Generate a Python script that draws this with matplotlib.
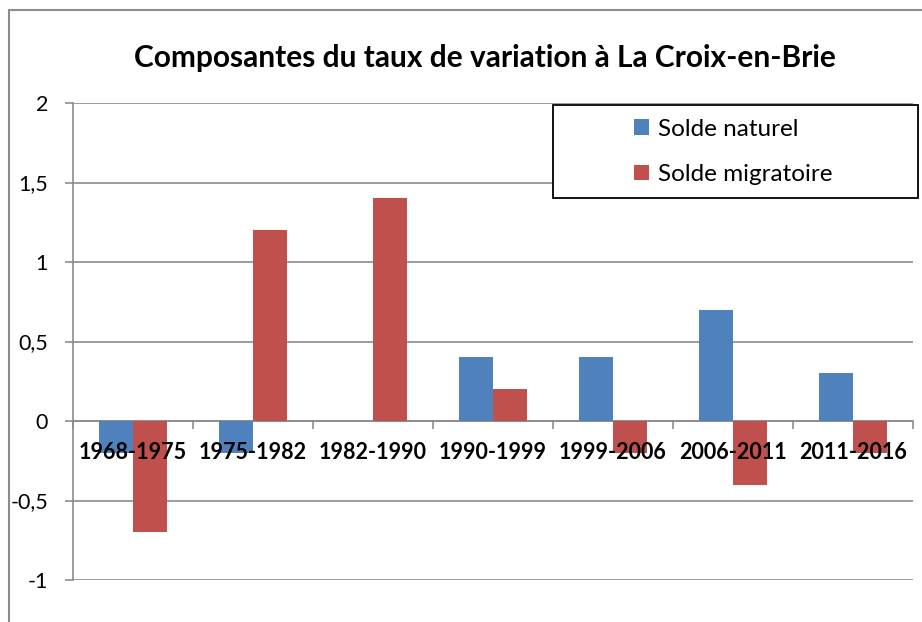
import matplotlib.pyplot as plt
from matplotlib.patches import Rectangle
import numpy as np

periodes = ['1968-1975', '1975-1982', '1982-1990', '1990-1999',
            '1999-2006', '2006-2011', '2011-2016']
solde_naturel = [-0.2, -0.2, 0.0, 0.4, 0.4, 0.7, 0.3]
solde_migratoire = [-0.7, 1.2, 1.4, 0.2, -0.2, -0.4, -0.2]
yticks = [-1, -0.5, 0, 0.5, 1, 1.5, 2]
ylabels = ['-1', '-0,5', '0', '0,5', '1', '1,5', '2']

plt.rcParams['font.family'] = ['Lato', 'DejaVu Sans']

W, H = 922, 622
fig = plt.figure(figsize=(W / 100, H / 100), dpi=100)
ax = fig.add_axes([73 / W, 1 - 580 / H, 840 / W, 477 / H])

# cadre du graphique
fig.patches.append(Rectangle((9 / W, -0.1), 1.2, (612 / H) + 0.1,
                             transform=fig.transFigure, fill=False,
                             edgecolor='#8c8c8c', linewidth=1.5))

x = np.arange(len(periodes))
w = 0.285
ax.bar(x - w / 2, solde_naturel, w, color='#4F81BD', label='Solde naturel', zorder=3)
ax.bar(x + w / 2, solde_migratoire, w, color='#C0504D', label='Solde migratoire', zorder=3)

ax.set_xlim(-0.5, len(periodes) - 0.5)
ax.set_ylim(-1, 2)
ax.set_yticks(yticks)
ax.set_yticklabels(ylabels, fontsize=15.5)
ax.yaxis.grid(True, color='#8c8c8c', linewidth=1.2)
ax.yaxis.set_zorder(0.5)

for side in ['top', 'right']:
    ax.spines[side].set_visible(False)
ax.spines['left'].set_color('#8c8c8c')
ax.spines['left'].set_linewidth(1.2)
ax.spines['left'].set_zorder(0.6)
ax.spines['bottom'].set_position(('data', 0))
ax.spines['bottom'].set_color('#8c8c8c')
ax.spines['bottom'].set_linewidth(1.2)
ax.spines['bottom'].set_zorder(2)
ax.tick_params(axis='y', length=6, color='#8c8c8c', width=1.2, pad=12)

ax.set_xticks(x)
ax.set_xticklabels(periodes, fontsize=15.5, fontweight='bold')
ax.set_xticks(np.arange(len(periodes) + 1) - 0.5, minor=True)
ax.tick_params(axis='x', which='major', length=0, pad=15)
ax.tick_params(axis='x', which='minor', length=6, color='#8c8c8c', width=1.2)
ax.xaxis.set_zorder(5)

fig.text(485 / W, 1 - 58 / H, 'Composantes du taux de variation à La Croix-en-Brie',
         ha='center', va='center', fontsize=21.5, fontweight='bold')

# légende dans un cadre noir
fig.patches.append(Rectangle((553 / W, 1 - 198 / H), (918 - 553) / W, 93 / H,
                             transform=fig.transFigure, fill=True, facecolor='white',
                             edgecolor='black', linewidth=1.3, zorder=4))
leg = fig.legend(loc='center left', bbox_to_anchor=(634 / W, 1 - 152 / H),
                 fontsize=17.5, frameon=False,
                 handlelength=0.62, handleheight=0.62,
                 labelspacing=1.0, handletextpad=0.35, borderaxespad=0, borderpad=0)
leg.set_zorder(6)

fig.savefig('out.png', dpi=100)
